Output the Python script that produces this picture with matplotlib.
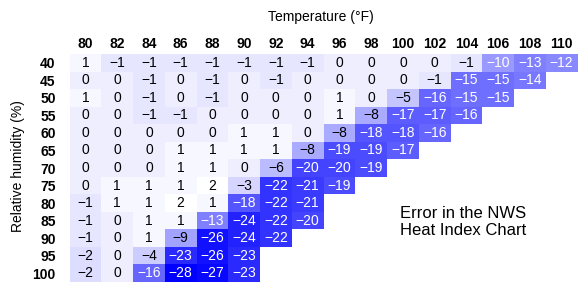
import numpy as np
import matplotlib
matplotlib.use("Agg")
import matplotlib.pyplot as plt
from matplotlib.colors import LinearSegmentedColormap

temps = [80, 82, 84, 86, 88, 90, 92, 94, 96, 98, 100, 102, 104, 106, 108, 110]
humidity = [40, 45, 50, 55, 60, 65, 70, 75, 80, 85, 90, 95, 100]

row40 = [1, -1, -1, -1, -1, -1, -1, -1, 0, 0, 0, 0, -1, -10, -13, -12]
row45 = [0, 0, -1, 0, -1, 0, -1, 0, 0, 0, 0, -1, -15, -15, -14]
row50 = [1, 0, -1, 0, -1, 0, 0, 0, 1, 0, -5, -16, -15, -15]
row55 = [0, 0, -1, -1, 0, 0, 0, 0, 1, -8, -17, -17, -16]
row60 = [0, 0, 0, 0, 0, 1, 1, 0, -8, -18, -18, -16]
row65 = [0, 0, 0, 1, 1, 1, 1, -8, -19, -19, -17]
row70 = [0, 0, 0, 1, 1, 0, -6, -20, -20, -19]
row75 = [0, 1, 1, 1, 2, -3, -22, -21, -19]
row80 = [-1, 1, 1, 2, 1, -18, -22, -21]
row85 = [-1, 0, 1, 1, -13, -24, -22, -20]
row90 = [-1, 0, 1, -9, -26, -24, -22]
row95 = [-2, 0, -4, -23, -26, -23]
row100 = [-2, 0, -16, -28, -27, -23]

rows = [row40, row45, row50, row55, row60, row65, row70, row75,
        row80, row85, row90, row95, row100]

nr, nc = len(humidity), len(temps)
data = np.full((nr, nc), np.nan)
for i, r in enumerate(rows):
    data[i, :len(r)] = r
masked = np.ma.masked_invalid(data)

plt.rcParams['font.family'] = ['Liberation Sans', 'DejaVu Sans']

W, H = 581, 283
fig = plt.figure(figsize=(W / 100, H / 100), dpi=100)
x0, x1, y0, y1 = 69.5, 577.5, 54, 282
ax = fig.add_axes([x0 / W, 1 - y1 / H, (x1 - x0) / W, (y1 - y0) / H])

cmap = LinearSegmentedColormap.from_list("bw", ["#0000ff", "#ffffff"])
ax.pcolormesh(np.arange(nc + 1), np.arange(nr + 1), masked, cmap=cmap,
              vmin=-28, vmax=2, shading='flat')
ax.set_xlim(0, nc)
ax.set_ylim(nr, 0)
for s in ax.spines.values():
    s.set_visible(False)

for i in range(nr):
    for j in range(nc):
        v = data[i, j]
        if np.isnan(v):
            continue
        v = int(v)
        txt = ("\u2212" + str(-v)) if v < 0 else str(v)
        col = 'white' if v <= -10 else 'black'
        ax.text(j + 0.5, i + 0.5, txt, ha='center', va='center',
                fontsize=10, color=col)

ax.xaxis.tick_top()
ax.set_xticks(np.arange(nc) + 0.5)
ax.set_xticklabels([str(t) for t in temps], fontweight='bold', fontsize=10)
ax.set_yticks(np.arange(nr) + 0.5)
ax.set_yticklabels([str(h) for h in humidity], fontweight='bold', fontsize=10)
ax.tick_params(axis='x', length=0, pad=2)
ax.tick_params(axis='y', length=0, pad=10)

fig.text(321 / W, 1 - 17 / H, "Temperature (\u00b0F)", ha='center',
         va='center', fontsize=10)
fig.text(18 / W, 1 - 166 / H, "Relative humidity (%)", ha='center',
         va='center', rotation=90, fontsize=10)
fig.text(463 / W, 1 - 222 / H, "Error in the NWS\nHeat Index Chart",
         ha='center', va='center', fontsize=12, linespacing=1.15)

fig.savefig("out.png", dpi=100)
